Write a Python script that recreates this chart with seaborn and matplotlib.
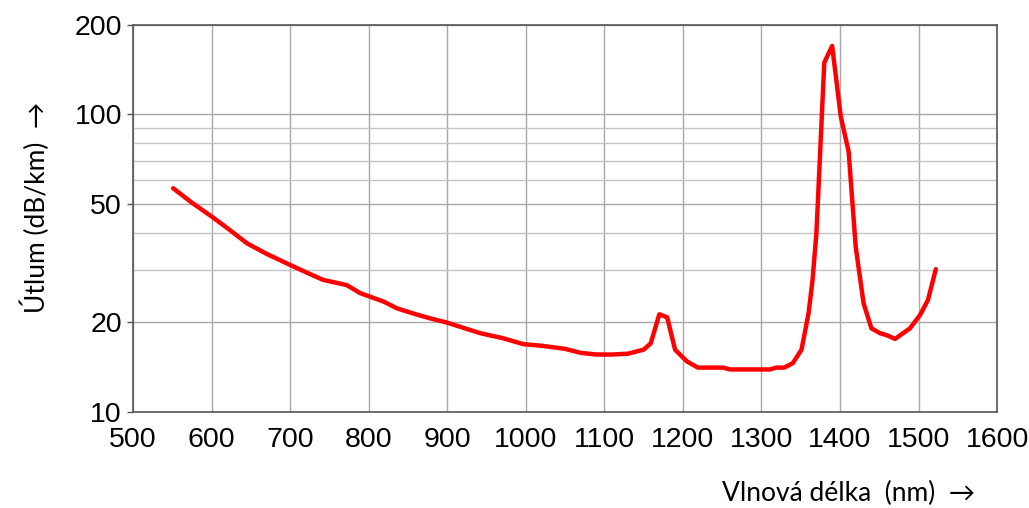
import numpy as np
import pandas as pd
import seaborn as sns
import matplotlib.pyplot as plt
from matplotlib.ticker import FixedLocator, NullFormatter

# Spektrální útlum optického vlákna
wavelength = [551, 575, 600, 620, 645, 670, 700, 720, 742, 772, 789, 819, 836,
              860, 878, 899, 920, 942, 971, 997, 1020, 1050, 1070, 1090, 1110,
              1130, 1150, 1159, 1170, 1180, 1190, 1205, 1219, 1251, 1260, 1311,
              1319, 1329, 1340, 1351, 1360, 1365, 1370, 1380, 1390, 1401, 1411,
              1420, 1430, 1440, 1451, 1460, 1470, 1489, 1502, 1512, 1522]
attenuation = [56.5, 50.5, 45.4, 41.5, 36.9, 34.0, 31.2, 29.5, 27.8, 26.7,
               25.1, 23.5, 22.3, 21.3, 20.65, 20.0, 19.2, 18.4, 17.7, 16.9,
               16.7, 16.3, 15.8, 15.6, 15.6, 15.7, 16.2, 17.0, 21.3, 20.8,
               16.2, 14.8, 14.1, 14.1, 13.9, 13.9, 14.1, 14.1, 14.6, 16.2,
               21.5, 27.7, 40.0, 149.4, 169.9, 98.3, 75.0, 35.9, 23.2, 19.1,
               18.4, 18.1, 17.6, 19.1, 21.2, 23.8, 30.2]

x_ticks = list(range(500, 1601, 100))
y_ticks = [10, 20, 50, 100, 200]
y_minor = [30, 40, 60, 70, 80, 90]

df = pd.DataFrame({"wavelength": wavelength, "attenuation": attenuation})

sns.set_style("white")
plt.rcParams["font.family"] = ["Liberation Sans", "DejaVu Sans"]

fig = plt.figure(figsize=(10.29, 5.08), dpi=100)
ax = fig.add_axes([0.1293, 0.189, 0.8397, 0.762])

sns.lineplot(data=df, x="wavelength", y="attenuation", color="#ff0000",
             linewidth=3.2, ax=ax, zorder=3)

ax.set_yscale("log")
ax.set_xlim(500, 1600)
ax.set_ylim(10, 200)
ax.set_xticks(x_ticks)
ax.set_xticklabels([str(t) for t in x_ticks], fontsize=20.5, color="black")
ax.yaxis.set_major_locator(FixedLocator(y_ticks))
ax.yaxis.set_minor_locator(FixedLocator(y_minor))
ax.yaxis.set_minor_formatter(NullFormatter())
ax.set_yticklabels([str(t) for t in y_ticks], fontsize=20.5, color="black")

ax.grid(True, which="major", axis="both", color="#a8a8a8", linewidth=1.0)
ax.grid(True, which="minor", axis="y", color="#c4c4c4", linewidth=1.0)
ax.tick_params(axis="y", which="major", length=4, width=1, color="#555555",
               pad=4, left=True)
ax.tick_params(axis="y", which="minor", length=0)
ax.tick_params(axis="x", length=0, pad=11)
for s in ax.spines.values():
    s.set_color("#555555")
    s.set_linewidth(1.2)

ax.set_xlabel("")
ax.set_ylabel("")

lbl_font = ["Lato", "DejaVu Sans"]
fig.text(35 / 1029, 1 - 207 / 508, "Útlum (dB/km)  →", rotation=90,
         ha="center", va="center", fontsize=19, family=lbl_font, color="black")
fig.text(975 / 1029, 1 - 493 / 508, "Vlnová délka  (nm)  →",
         ha="right", va="center", fontsize=19, family=lbl_font, color="black")

fig.savefig("out.png", dpi=100)
